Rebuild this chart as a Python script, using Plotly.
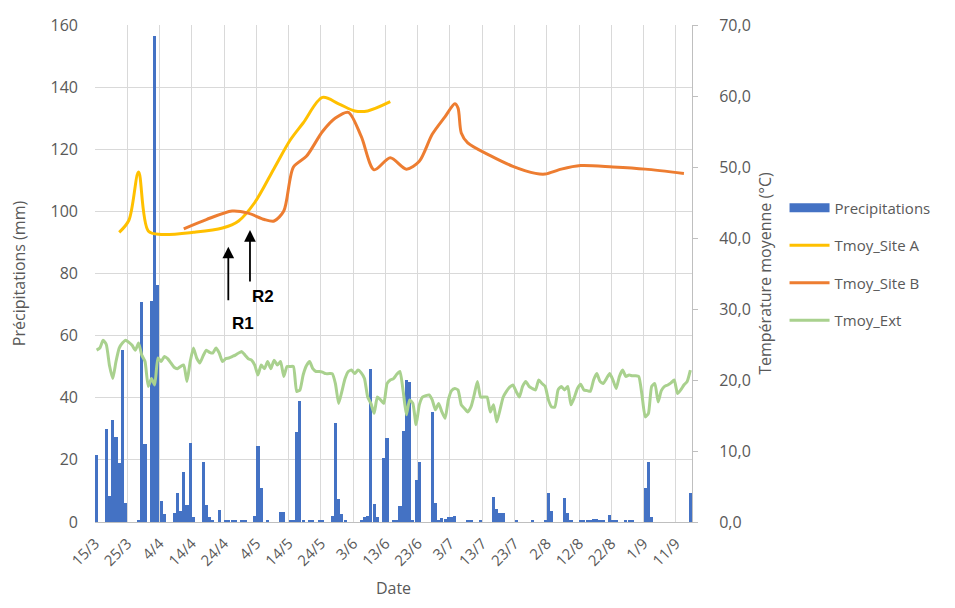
import pandas as pd
import plotly.graph_objects as go

# ---------------- data ----------------
start_date = "2021-03-15"
n_days = 185

# Daily precipitation (mm), one value per day from 15/3
precipitations = [
    21.6, 0, 0, 29.8, 8.4, 32.9, 27.5, 19.1, 55.4, 6.2,
    0, 0, 0, 0.5, 70.8, 25.1, 0, 71.2, 156.5, 76.3,
    6.7, 2.7, 0, 0, 2.8, 9.2, 3.5, 16.0, 5.5, 25.3,
    1.7, 0, 0, 19.2, 5.5, 1.7, 0.6, 0, 3.9, 0,
    0.8, 0.5, 0.5, 0.4, 0, 0.5, 0.4, 0, 0, 2.0,
    24.6, 10.8, 0, 0.5, 0, 0, 0, 3.2, 3.2, 0,
    0.5, 0.5, 28.9, 39.0, 0.5, 0, 0.5, 0.5, 0, 0.4,
    0.4, 0, 0, 2.0, 31.8, 7.3, 2.5, 0.5, 0, 0,
    0, 0, 0.5, 1.6, 1.8, 49.3, 5.7, 1.6, 0, 20.5,
    27.2, 0, 0.5, 0.5, 5.2, 29.2, 45.6, 45.0, 0.5, 13.5,
    19.4, 0, 0, 0, 35.3, 6.0, 0.6, 1.2, 1.0, 1.7,
    1.7, 2.0, 0, 0, 0, 0.6, 0.6, 0, 0, 0.4,
    0, 0, 0, 7.9, 4.1, 2.8, 2.8, 0, 0, 0,
    0.7, 0, 0, 0, 0, 0.4, 0, 0, 0, 0.5,
    9.2, 3.6, 0, 0, 0, 7.8, 2.8, 0.5, 0, 0,
    0.6, 0.6, 0.6, 0.8, 1.0, 1.0, 0.5, 0.5, 0, 2.4,
    0.5, 0.5, 0, 0, 0.6, 0.8, 0.6, 0, 0, 0,
    10.8, 19.4, 1.7, 0, 0, 0, 0, 0, 0, 0,
    0, 0, 0, 0, 9.2,
]

# Daily outdoor mean temperature (°C)
tmoy_ext = [
    24.2, 24.5, 25.6, 25.0, 22.0, 20.2, 22.6, 24.5, 25.2, 25.6,
    25.3, 24.9, 24.2, 25.2, 23.5, 22.6, 19.1, 20.2, 19.3, 23.1,
    22.6, 23.3, 23.0, 22.4, 21.8, 21.6, 21.9, 22.1, 19.8, 22.6,
    24.5, 23.1, 22.4, 23.4, 24.2, 23.9, 23.8, 24.5, 23.8, 22.6,
    23.0, 23.1, 23.3, 23.5, 23.8, 24.0, 23.5, 23.0, 22.8, 22.1,
    20.7, 22.1, 21.6, 22.6, 21.6, 22.8, 22.1, 22.6, 20.5, 21.9,
    21.9, 21.9, 18.4, 18.6, 20.7, 22.0, 22.6, 21.6, 21.2, 21.2,
    21.1, 20.9, 20.9, 20.9, 19.5, 16.7, 18.4, 20.2, 21.2, 21.4,
    20.9, 21.4, 21.0, 20.2, 17.6, 16.7, 15.3, 17.6, 17.2, 16.7,
    19.5, 20.0, 20.2, 20.8, 21.2, 18.4, 15.1, 17.2, 16.7, 13.7,
    16.5, 17.6, 17.8, 17.9, 17.2, 15.8, 16.7, 15.5, 14.6, 17.2,
    18.5, 18.8, 18.6, 16.5, 16.0, 15.5, 16.2, 17.9, 19.8, 17.6,
    17.6, 17.6, 15.5, 16.5, 14.1, 15.8, 17.6, 18.4, 19.0, 19.3,
    18.4, 17.6, 19.1, 19.8, 19.1, 18.8, 18.6, 20.0, 19.5, 19.1,
    17.2, 16.2, 16.2, 18.6, 19.1, 18.6, 19.1, 16.5, 17.5, 18.8,
    19.4, 18.6, 18.5, 18.4, 20.0, 20.9, 19.8, 19.5, 20.2, 20.9,
    20.0, 18.8, 20.5, 21.4, 20.5, 20.7, 20.6, 20.6, 20.5, 17.9,
    14.8, 15.3, 19.1, 19.5, 16.9, 18.5, 19.1, 19.3, 19.6, 20.0,
    18.1, 18.6, 19.3, 19.8, 21.4,
]

site_a_dates = ["2021-03-22", "2021-03-25", "2021-03-28", "2021-03-31", "2021-04-04",
                "2021-04-14", "2021-04-23", "2021-04-28", "2021-05-03", "2021-05-09",
                "2021-05-14", "2021-05-18", "2021-05-24", "2021-05-29", "2021-06-03",
                "2021-06-07", "2021-06-14"]
site_a_temp = [40.8, 42.5, 49.3, 41.0, 40.5,
               40.8, 41.4, 42.4, 45.0, 49.8,
               53.8, 56.2, 59.8, 58.9, 57.9,
               57.9, 59.2]

site_b_dates = ["2021-04-11", "2021-04-18", "2021-04-26", "2021-05-01", "2021-05-06",
                "2021-05-09", "2021-05-12", "2021-05-15", "2021-05-19", "2021-05-24",
                "2021-05-28", "2021-06-01", "2021-06-05", "2021-06-09", "2021-06-14",
                "2021-06-19", "2021-06-23", "2021-06-27", "2021-07-01", "2021-07-04",
                "2021-07-05", "2021-07-06", "2021-07-08", "2021-07-15", "2021-07-22",
                "2021-07-29", "2021-08-01", "2021-08-06", "2021-08-12", "2021-08-22",
                "2021-09-01", "2021-09-13"]
site_b_temp = [41.3, 42.6, 43.8, 43.5, 42.6,
               42.4, 43.8, 50.0, 51.5, 55.0,
               56.9, 57.7, 54.3, 49.6, 51.3,
               49.7, 50.8, 54.6, 57.1, 58.9,
               58.3, 54.8, 53.4, 51.6, 50.1,
               49.1, 49.0, 49.7, 50.2, 50.0,
               49.7, 49.1]

left_ticks = [0, 20, 40, 60, 80, 100, 120, 140, 160]
right_ticks = [0, 10, 20, 30, 40, 50, 60, 70]

# ---------------- figure ----------------
half_day = pd.Timedelta(hours=12)
days = pd.date_range(start_date, periods=n_days, freq="D") + half_day
a_x = pd.to_datetime(site_a_dates) + half_day
b_x = pd.to_datetime(site_b_dates) + half_day
tick_dates = pd.date_range(start_date, periods=19, freq="10D")

BLUE = "#4472C4"
YELLOW = "#FFC000"
ORANGE = "#ED7D31"
GREEN = "#A9D18E"
GRID = "#D9D9D9"
TXT = "#595959"
FONT = "Open Sans"

fig = go.Figure()
fig.add_trace(go.Bar(x=days, y=precipitations, marker=dict(color=BLUE, line=dict(width=0)),
                     width=0.97 * 86400000, showlegend=False, name="Precipitations"))
# legend-only marker for the bars (wide rectangle like the original legend)
fig.add_trace(go.Scatter(x=[None], y=[None], mode="lines", line=dict(color=BLUE, width=9),
                         name="Precipitations", legendgroup="p"))
fig.add_trace(go.Scatter(x=a_x, y=site_a_temp, yaxis="y2", mode="lines", name="Tmoy_Site A",
                         line=dict(color=YELLOW, width=3, shape="spline", smoothing=0.9),
                         legendgroup="a"))
fig.add_trace(go.Scatter(x=b_x, y=site_b_temp, yaxis="y2", mode="lines", name="Tmoy_Site B",
                         line=dict(color=ORANGE, width=3, shape="spline", smoothing=0.8),
                         legendgroup="b"))
fig.add_trace(go.Scatter(x=days, y=tmoy_ext, yaxis="y2", mode="lines", name="Tmoy_Ext",
                         line=dict(color=GREEN, width=3, shape="spline", smoothing=0.5),
                         legendgroup="e"))

fig.update_layout(
    width=955, height=608,
    margin=dict(l=95, r=263, t=25, b=86),
    paper_bgcolor="white", plot_bgcolor="white",
    separators=", ",
    font=dict(family=FONT, size=15, color=TXT),
    bargap=0,
    xaxis=dict(
        type="date",
        range=[pd.Timestamp(start_date), pd.Timestamp(start_date) + pd.Timedelta(days=n_days)],
        tickvals=tick_dates, tickformat="%-d/%-m", tickangle=-45,
        showgrid=True, gridcolor=GRID, gridwidth=1,
        showline=True, linecolor="#BFBFBF", linewidth=1,
        ticks="", ticklabelstandoff=6,
        tickfont=dict(size=15, color=TXT),
        title=dict(text="Date", font=dict(size=16, color=TXT), standoff=14),
        zeroline=False,
    ),
    yaxis=dict(
        range=[0, 160], tickvals=left_ticks,
        showgrid=True, gridcolor=GRID, gridwidth=1,
        showline=False, zeroline=False,
        ticks="", ticklabelstandoff=16,
        tickfont=dict(size=16, color=TXT),
        title=dict(text="Précipitations (mm)", font=dict(size=16, color=TXT), standoff=20),
    ),
    yaxis2=dict(
        range=[0, 70], tickvals=right_ticks, tickformat=".1f",
        overlaying="y", side="right",
        showgrid=False, zeroline=False,
        showline=True, linecolor="#BFBFBF", linewidth=1,
        ticks="outside", ticklen=5, tickcolor="#BFBFBF", ticklabelstandoff=18,
        tickfont=dict(size=16, color=TXT),
        title=dict(text="Température moyenne (°C)", font=dict(size=16, color=TXT), standoff=10),
    ),
    legend=dict(
        x=1.155, y=0.665, xanchor="left", yanchor="top",
        font=dict(size=15, color=TXT), itemwidth=40,
        tracegroupgap=15, traceorder="grouped", bgcolor="rgba(0,0,0,0)",
    ),
)

# R1 / R2 arrows and labels
arrow_style = dict(xref="paper", yref="paper", axref="pixel", ayref="pixel", text="",
                   showarrow=True, arrowhead=2, arrowsize=1.3, arrowwidth=1.8,
                   arrowcolor="black", ax=0)
fig.add_annotation(x=0.2233, y=0.554, ay=55, **arrow_style)
fig.add_annotation(x=0.2596, y=0.5875, ay=53, **arrow_style)
fig.add_annotation(x=0.2261, y=0.40, xref="paper", yref="paper", text="<b>R1</b>",
                   showarrow=False, font=dict(family="Liberation Sans", size=17, color="black"))
fig.add_annotation(x=0.2596, y=0.4533, xref="paper", yref="paper", text="<b>R2</b>",
                   showarrow=False, font=dict(family="Liberation Sans", size=17, color="black"))

fig.write_html("out.html")
